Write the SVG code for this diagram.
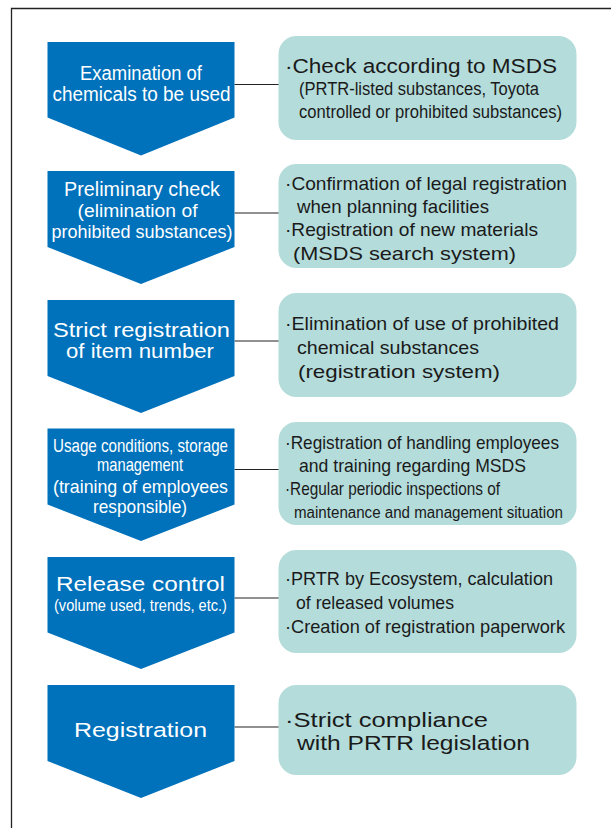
<svg xmlns="http://www.w3.org/2000/svg" width="611" height="828" viewBox="0 0 611 828">
<style>
.step{fill:#0071bb}
.box{fill:#b4dcda}
.wt{fill:#ffffff;font-family:"Liberation Sans",Arial,sans-serif;text-anchor:middle}
.bt{fill:#1a1a1a;font-family:"Liberation Sans",Arial,sans-serif}
.conn{stroke:#222;stroke-width:1.2;fill:none}
.frame{stroke:#222;stroke-width:1.3;fill:none}
</style>
<rect width="611" height="828" fill="#ffffff"/>
<path class="frame" d="M11.5,828 V8.5 H611"/>
<g id="connectors">
<line class="conn" x1="234.5" y1="84.5" x2="279" y2="84.5"/>
<line class="conn" x1="234.5" y1="213" x2="279" y2="213"/>
<line class="conn" x1="234.5" y1="341" x2="279" y2="341"/>
<line class="conn" x1="234.5" y1="469.5" x2="279" y2="469.5"/>
<line class="conn" x1="234.5" y1="598" x2="279" y2="598"/>
<line class="conn" x1="234.5" y1="727" x2="279" y2="727"/>
</g>
<g id="step1">
<path class="step" d="M47.5,42 H234.5 V117.5 L141,155.5 L47.5,117.5 Z"/>
<text class="wt" font-size="19.5" x="141" y="80" textLength="122" lengthAdjust="spacingAndGlyphs">Examination of</text>
<text class="wt" font-size="19.5" x="141.5" y="101" textLength="178" lengthAdjust="spacingAndGlyphs">chemicals to be used</text>
</g>
<g id="note1">
<rect class="box" x="278.5" y="36" width="298" height="104" rx="18"/>
<text class="bt" font-size="20" x="285" y="72.5" textLength="272" lengthAdjust="spacingAndGlyphs">·Check according to MSDS</text>
<text class="bt" font-size="18" x="299" y="94.5" textLength="240" lengthAdjust="spacingAndGlyphs">(PRTR-listed substances, Toyota</text>
<text class="bt" font-size="18" x="299" y="118" textLength="263" lengthAdjust="spacingAndGlyphs">controlled or prohibited substances)</text>
</g>
<g id="step2">
<path class="step" d="M47.5,171 H234.5 V247 L141,284 L47.5,247 Z"/>
<text class="wt" font-size="20" x="142" y="196" textLength="156" lengthAdjust="spacingAndGlyphs">Preliminary check</text>
<text class="wt" font-size="18" x="137.5" y="217" textLength="120" lengthAdjust="spacingAndGlyphs">(elimination of</text>
<text class="wt" font-size="18.5" x="142" y="237.5" textLength="181" lengthAdjust="spacingAndGlyphs">prohibited substances)</text>
</g>
<g id="note2">
<rect class="box" x="278.5" y="164" width="298" height="104" rx="18"/>
<text class="bt" font-size="19" x="285" y="189.5" textLength="282" lengthAdjust="spacingAndGlyphs">·Confirmation of legal registration</text>
<text class="bt" font-size="19" x="297" y="212.5" textLength="192" lengthAdjust="spacingAndGlyphs">when planning facilities</text>
<text class="bt" font-size="19" x="285" y="236" textLength="253" lengthAdjust="spacingAndGlyphs">·Registration of new materials</text>
<text class="bt" font-size="19" x="293" y="259.5" textLength="223" lengthAdjust="spacingAndGlyphs">(MSDS search system)</text>
</g>
<g id="step3">
<path class="step" d="M47.5,300 H234.5 V376 L141,413 L47.5,376 Z"/>
<text class="wt" font-size="20" x="141.5" y="337" textLength="177" lengthAdjust="spacingAndGlyphs">Strict registration</text>
<text class="wt" font-size="20" x="140" y="357.5" textLength="148" lengthAdjust="spacingAndGlyphs">of item number</text>
</g>
<g id="note3">
<rect class="box" x="278.5" y="293" width="298" height="104" rx="18"/>
<text class="bt" font-size="19" x="285" y="329.5" textLength="274" lengthAdjust="spacingAndGlyphs">·Elimination of use of prohibited</text>
<text class="bt" font-size="19" x="297" y="353.5" textLength="182" lengthAdjust="spacingAndGlyphs">chemical substances</text>
<text class="bt" font-size="19" x="298" y="377.5" textLength="202" lengthAdjust="spacingAndGlyphs">(registration system)</text>
</g>
<g id="step4">
<path class="step" d="M47.5,428.5 H234.5 V504.5 L141,541 L47.5,504.5 Z"/>
<text class="wt" font-size="19" x="140.5" y="451.5" textLength="175" lengthAdjust="spacingAndGlyphs">Usage conditions, storage</text>
<text class="wt" font-size="19" x="140" y="471" textLength="86" lengthAdjust="spacingAndGlyphs">management</text>
<text class="wt" font-size="19" x="140.5" y="493" textLength="175" lengthAdjust="spacingAndGlyphs">(training of employees</text>
<text class="wt" font-size="19" x="140" y="513" textLength="94" lengthAdjust="spacingAndGlyphs">responsible)</text>
</g>
<g id="note4">
<rect class="box" x="278.5" y="422" width="298" height="103" rx="18"/>
<text class="bt" font-size="19" x="285" y="448.5" textLength="274" lengthAdjust="spacingAndGlyphs">·Registration of handling employees</text>
<text class="bt" font-size="19" x="299" y="471.5" textLength="227" lengthAdjust="spacingAndGlyphs">and training regarding MSDS</text>
<text class="bt" font-size="19" x="285" y="495" textLength="215" lengthAdjust="spacingAndGlyphs">·Regular periodic inspections of</text>
<text class="bt" font-size="16" x="294" y="518" textLength="269" lengthAdjust="spacingAndGlyphs">maintenance and management situation</text>
</g>
<g id="step5">
<path class="step" d="M47.5,557 H234.5 V632.5 L141,669 L47.5,632.5 Z"/>
<text class="wt" font-size="20.5" x="140.5" y="591" textLength="169" lengthAdjust="spacingAndGlyphs">Release control</text>
<text class="wt" font-size="16.5" x="140.5" y="611" textLength="173" lengthAdjust="spacingAndGlyphs">(volume used, trends, etc.)</text>
</g>
<g id="note5">
<rect class="box" x="278.5" y="550" width="298" height="103" rx="18"/>
<text class="bt" font-size="19" x="285" y="584.5" textLength="268" lengthAdjust="spacingAndGlyphs">·PRTR by Ecosystem, calculation</text>
<text class="bt" font-size="19" x="296" y="608.5" textLength="158" lengthAdjust="spacingAndGlyphs">of released volumes</text>
<text class="bt" font-size="19" x="285" y="632.5" textLength="280" lengthAdjust="spacingAndGlyphs">·Creation of registration paperwork</text>
</g>
<g id="step6">
<path class="step" d="M47.5,685 H234.5 V761 L141,798 L47.5,761 Z"/>
<text class="wt" font-size="20.5" x="140.5" y="737" textLength="133" lengthAdjust="spacingAndGlyphs">Registration</text>
</g>
<g id="note6">
<rect class="box" x="278.5" y="685" width="298" height="90" rx="18"/>
<text class="bt" font-size="20.5" x="285" y="727" textLength="203" lengthAdjust="spacingAndGlyphs">·Strict compliance</text>
<text class="bt" font-size="20.5" x="297" y="750" textLength="233" lengthAdjust="spacingAndGlyphs">with PRTR legislation</text>
</g>
</svg>
